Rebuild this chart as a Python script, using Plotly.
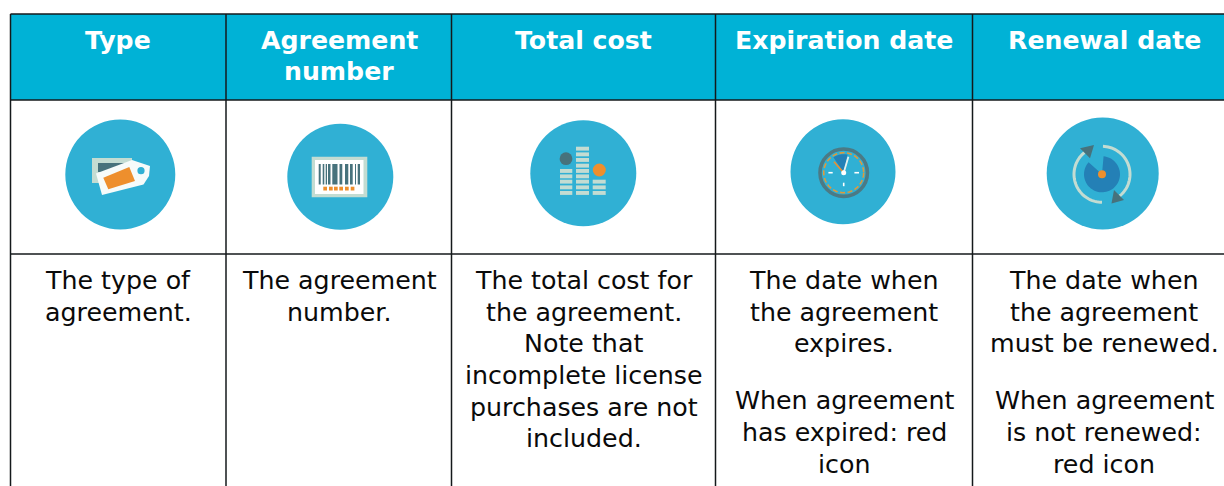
import numpy as np
import plotly.graph_objects as go

# ---- table content ----
headers = [["Type"], ["Agreement", "number"], ["Total cost"], ["Expiration date"], ["Renewal date"]]
descriptions = [
    ["The type of", "agreement."],
    ["The agreement", "number."],
    ["The total cost for", "the agreement.", "Note that", "incomplete license", "purchases are not", "included."],
    ["The date when", "the agreement", "expires.", "", "When agreement", "has expired: red", "icon"],
    ["The date when", "the agreement", "must be renewed.", "", "When agreement", "is not renewed:", "red icon"],
]
col_edges = [10.5, 226, 451.5, 715.5, 972.5, 1230]
col_centers = [118, 339, 583.5, 844, 1104]
row_edges = [14, 100, 254, 490]
header_ys = [40, 71]
body_ys = [280.5, 312, 343.5, 375, 407, 438]
body_ys_gap = [280.5, 312, 343.5, 375, 400.5, 432.5, 464]
icon_centers = [(120.3, 174.5, 55), (340.3, 176.7, 53), (583.3, 173.3, 53), (843, 171.7, 52.5), (1102.7, 173.5, 56)]

TEAL = "#00b2d6"
ICON = "#30b0d4"
PALE = "#c3dcd2"
DARK = "#47727c"
ORANGE = "#ee8f2d"
BLUE = "#2480b6"
FONT = "DejaVu Sans, Verdana, sans-serif"

shapes = []


def rect(x0, y0, x1, y1, fill, line=None, w=0):
    shapes.append(dict(type="rect", x0=x0, y0=y0, x1=x1, y1=y1, fillcolor=fill,
                       line=dict(color=line or fill, width=w)))


def circ(cx, cy, r, fill, line=None, w=0):
    shapes.append(dict(type="circle", x0=cx - r, y0=cy - r, x1=cx + r, y1=cy + r, fillcolor=fill,
                       line=dict(color=line or fill, width=w)))


def poly(pts, fill):
    path = "M" + " L".join(f"{x:.2f},{y:.2f}" for x, y in pts) + " Z"
    shapes.append(dict(type="path", path=path, fillcolor=fill, line=dict(width=0)))


def seg(x0, y0, x1, y1, color, w):
    shapes.append(dict(type="line", x0=x0, y0=y0, x1=x1, y1=y1, line=dict(color=color, width=w)))


def arc(cx, cy, r, a0, a1, color, w, dash="solid"):
    t = np.radians(np.linspace(a0, a1, 40))
    pts = [(cx + r * np.cos(v), cy + r * np.sin(v)) for v in t]
    path = "M" + " L".join(f"{x:.2f},{y:.2f}" for x, y in pts)
    shapes.append(dict(type="path", path=path, line=dict(color=color, width=w, dash=dash)))


def wedge(cx, cy, r, a0, a1, fill):
    t = np.radians(np.linspace(a0, a1, 60))
    poly([(cx, cy)] + [(cx + r * np.cos(v), cy + r * np.sin(v)) for v in t], fill)


# header band
rect(col_edges[0], row_edges[0], 1224, row_edges[1], TEAL)

# grid
for x in col_edges[:-1]:
    seg(x, row_edges[0], x, 486, "#14191b", 1.5)
for y in row_edges[:-1]:
    seg(col_edges[0], y, 1224, y, "#14191b", 1.5)

# icon discs
for cx, cy, r in icon_centers:
    circ(cx, cy, r, ICON)

# icon 1: tags
rect(92, 158, 132, 183, PALE)
rect(98, 163, 130, 172, DARK)
poly([(96, 173.5), (132, 160), (150, 166), (149, 176), (143.5, 184.5), (102, 195)], "#f6fbfa")
poly([(103.3, 177.7), (129.3, 167), (135, 181), (108.3, 189.3)], ORANGE)
circ(141, 170.7, 3.6, ICON)

# icon 2: barcode
rect(311.7, 156.7, 367.3, 197.3, PALE)
rect(315, 160, 363.5, 194, "#ffffff")
for x, w in [(318.7, 2), (322.7, 1.6), (325.7, 1.3), (328, 2.5), (332.3, 5.2), (339.5, 2.8), (345, 3.3),
             (350, 2.7), (355, 1), (357.7, 2.3)]:
    rect(x, 164, x + w, 184.5, DARK)
for x in [323.3, 329, 334, 339.3, 345, 350.7]:
    rect(x, 186.7, x + 3.7, 190.5, ORANGE)

# icon 3: level meter
seg_tops = [147, 152.7, 158.3, 164, 169.3, 174.7, 180, 185.7, 191.3]
for x0, x1, first in [(560, 572.3, 4), (576, 589, 0), (592.7, 605.7, 6)]:
    for top in seg_tops[first:]:
        rect(x0, top - 0.3, x1, top + 3.6, PALE)
circ(566, 158.7, 6.4, DARK)
circ(599.3, 170, 6.5, ORANGE)

# icon 4: clock
clock_x, clock_y = 843.7, 172.7
circ(clock_x, clock_y, 23.7, "rgba(0,0,0,0)", "#4b7a85", 3.6)
wedge(clock_x, clock_y, 18.5, -124, -78, BLUE)
arc(clock_x, clock_y, 20, 0, 360, "#e09a3a", 1.6, "5px,2.5px")
seg(clock_x, clock_y, clock_x - 9.7, clock_y - 11, ORANGE, 1.6)
seg(clock_x, clock_y, clock_x + 4.7, clock_y - 16, "#e6f0ee", 1.8)
seg(clock_x - 15.3, clock_y, clock_x - 11, clock_y, "#ffffff", 1.6)
seg(clock_x + 10.7, clock_y, clock_x + 15.3, clock_y, "#ffffff", 1.6)
seg(clock_x, clock_y + 10, clock_x, clock_y + 13.5, "#ffffff", 1.6)
circ(clock_x, clock_y, 2.5, "#ffffff")

# icon 5: renewal
ren_x, ren_y = 1102, 174.3
wedge(ren_x, ren_y, 18, -85, 222, BLUE)
circ(ren_x, ren_y, 4, ORANGE)
arc(ren_x, ren_y, 28, -88, 52, PALE, 3)
arc(ren_x, ren_y, 28, 90, 232, PALE, 3)
poly([(1080, 148.3), (1094, 145), (1090, 158.3)], DARK)
poly([(1111.5, 203.5), (1114, 190), (1124, 200)], DARK)

# ---- text ----
annotations = []


def label(x, y, text, size, color, bold=False):
    annotations.append(dict(x=x, y=y, xref="x", yref="y", text=f"<b>{text}</b>" if bold else text,
                            showarrow=False, xanchor="center", yanchor="middle", borderpad=0,
                            font=dict(family=FONT, size=size, color=color)))


for cx, lines in zip(col_centers, headers):
    for y, t in zip(header_ys, lines):
        label(cx, y, t, 25.2, "#ffffff", bold=True)

for cx, lines in zip(col_centers, descriptions):
    ys = body_ys_gap if "" in lines else body_ys
    for y, t in zip(ys, lines):
        if t:
            label(cx, y, t, 25.3, "#0a0a0a")

fig = go.Figure()
fig.update_layout(
    width=1224, height=486, autosize=False, margin=dict(l=0, r=0, t=0, b=0),
    paper_bgcolor="#ffffff", plot_bgcolor="#ffffff", showlegend=False,
    xaxis=dict(range=[0, 1224], visible=False, fixedrange=True),
    yaxis=dict(range=[486, 0], visible=False, fixedrange=True),
    shapes=shapes, annotations=annotations,
)
fig.write_html("out.html", config={"displayModeBar": False},
               post_script="document.body.style.margin='0';document.body.style.overflow='hidden';")
